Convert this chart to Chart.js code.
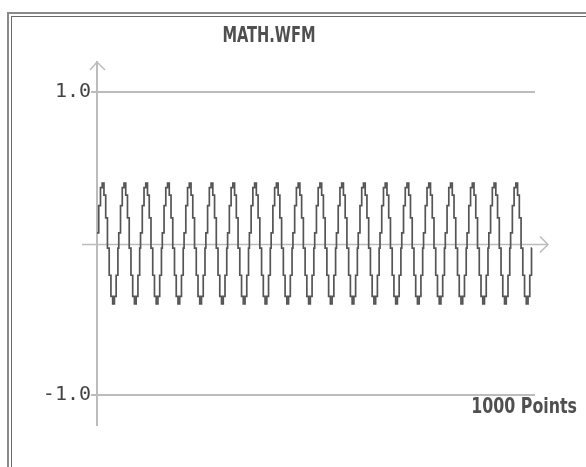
<!DOCTYPE html>
<html>
<head>
<meta charset="utf-8">
<script src="https://cdn.jsdelivr.net/npm/chart.js@4.4.1/dist/chart.umd.min.js"></script>
<style>
  html, body { margin: 0; padding: 0; background: #fff; }
  #wrap { width: 586px; height: 467px; }
</style>
</head>
<body>
<div id="wrap"><canvas id="myChart" width="586" height="467"></canvas></div>
<script>
const titulo = 'MATH.WFM';
const etiquetaX = '1000 Points';
const marcasY = [-1, 1];
const ciclos = 20;
// one period (50 samples) of the stepped wave
const ciclo = [
  0.07, 0.07, 0.07, 0.07,
  0.25, 0.25, 0.25, 0.25,
  0.37, 0.37, 0.37, 0.37,
  0.40, 0.40, 0.40, 0.40,
  0.32, 0.32, 0.32, 0.32,
  0.17, 0.17, 0.17, 0.17,
  -0.03, -0.03, -0.03, -0.03,
  -0.21, -0.21, -0.21, -0.21,
  -0.35, -0.35, -0.35, -0.35,
  -0.40, -0.40, -0.40, -0.40,
  -0.35, -0.35, -0.35, -0.35,
  -0.21, -0.21, -0.21, -0.21,
  -0.03, -0.03
];

const datos = [];
for (let c = 0; c < ciclos; c++) {
  ciclo.forEach((v, i) => datos.push({ x: c * ciclo.length + i, y: v }));
}

const gris = '#bcbcbc';
const texto = '#505050';
const fuenteNarrow = '"DejaVu Sans Condensed", "DejaVu Sans", sans-serif';

// narrow, tall text like the scope font
function textoEstrecho(c, str, x, y, size, escala, align) {
  c.save();
  c.font = 'bold ' + size + 'px ' + fuenteNarrow;
  c.textAlign = align;
  c.textBaseline = 'alphabetic';
  c.translate(x, y);
  c.scale(escala, 1);
  c.fillText(str, 0, 0);
  c.restore();
}

const decorado = {
  id: 'decorado',
  beforeDraw(chart) {
    const c = chart.ctx;
    c.save();
    c.fillStyle = '#fff';
    c.fillRect(0, 0, chart.width, chart.height);
    // double frame
    c.strokeStyle = '#8a8a8a';
    c.lineWidth = 2;
    c.strokeRect(8, 13, 700, 600);
    c.strokeStyle = '#6a6a6a';
    c.lineWidth = 1;
    c.strokeRect(11.5, 16.5, 700, 600);
    c.fillStyle = texto;
    textoEstrecho(c, titulo, 269, 42, 22, 0.74, 'center');
    c.restore();
  },
  beforeDatasetsDraw(chart) {
    const c = chart.ctx;
    const ys = chart.scales.y;
    const a = chart.chartArea;
    const y0 = Math.round(ys.getPixelForValue(0)) + 0.5;
    c.save();
    c.strokeStyle = gris;
    c.lineWidth = 1.5;
    // x axis with arrow
    c.beginPath();
    c.moveTo(a.left - 15, y0);
    c.lineTo(a.right + 13, y0);
    c.moveTo(a.right + 5, y0 - 8);
    c.lineTo(a.right + 13, y0);
    c.lineTo(a.right + 5, y0 + 8);
    // y axis arrow head
    c.moveTo(a.left - 7, a.top + 8);
    c.lineTo(a.left, a.top);
    c.lineTo(a.left + 8, a.top + 8);
    c.stroke();
    c.restore();
  },
  afterDraw(chart) {
    const c = chart.ctx;
    c.save();
    c.fillStyle = texto;
    textoEstrecho(c, etiquetaX, 577, 413, 22, 0.8, 'right');
    c.restore();
  }
};

const ctx = document.getElementById('myChart');
const myChart = new Chart(ctx, {
  type: 'line',
  data: {
    datasets: [{
      label: titulo,
      data: datos,
      borderColor: '#555555',
      borderWidth: 1.7,
      pointRadius: 0,
      stepped: 'before',
      fill: false
    }]
  },
  options: {
    responsive: false,
    animation: false,
    layout: { padding: { left: 0, top: 62, right: 51, bottom: 42 } },
    plugins: {
      legend: { display: false },
      tooltip: { enabled: false }
    },
    scales: {
      x: {
        type: 'linear',
        min: 0,
        max: 1006,
        display: false
      },
      y: {
        min: -1.2,
        max: 1.2,
        afterBuildTicks: (s) => { s.ticks = marcasY.map(v => ({ value: v })); },
        afterFit: (s) => { s.width = 97; },
        ticks: {
          color: '#444444',
          padding: 0,
          font: { family: '"DejaVu Sans Mono", monospace', size: 20 },
          callback: (v) => v.toFixed(1)
        },
        grid: { color: gris, lineWidth: 2, tickLength: 6 },
        border: { color: gris, width: 2 }
      }
    }
  },
  plugins: [decorado]
});
</script>
</body>
</html>
